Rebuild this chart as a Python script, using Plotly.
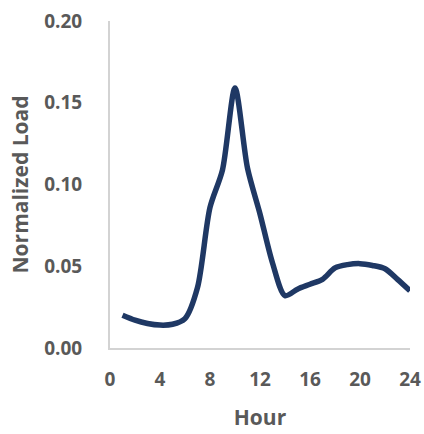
import plotly.graph_objects as go

hours = list(range(1, 25))
load = [0.020, 0.017, 0.015, 0.014, 0.0145, 0.018, 0.037, 0.086, 0.109, 0.159,
        0.110, 0.082, 0.052, 0.032, 0.036, 0.039, 0.042, 0.049, 0.051, 0.0516,
        0.0505, 0.0485, 0.042, 0.035]
x_ticks = [0, 4, 8, 12, 16, 20, 24]
y_ticks = [0.00, 0.05, 0.10, 0.15, 0.20]

NAVY = "#1F3864"
GREY = "#595959"
FONT = "Open Sans"

fig = go.Figure(
    go.Scatter(
        x=hours, y=load, mode="lines",
        line=dict(color=NAVY, width=5.5, shape="spline", smoothing=0.8),
        hoverinfo="skip",
    )
)

fig.update_layout(
    width=424, height=434,
    margin=dict(l=110, r=14, t=21, b=86),
    paper_bgcolor="white", plot_bgcolor="white",
    showlegend=False,
    font=dict(family=FONT, color=GREY),
)

fig.update_xaxes(
    range=[0, 24], tickvals=x_ticks, ticktext=[str(v) for v in x_ticks],
    automargin=False,
    showgrid=False, zeroline=False, showline=True, linecolor="#D3D3D3", linewidth=2,
    ticks="", ticklabelstandoff=13,
    tickfont=dict(family=FONT, size=19, color=GREY, weight="bold"),
    title=dict(text="Hour", font=dict(family=FONT, size=21, color=GREY, weight="bold"), standoff=20),
)
fig.update_yaxes(
    range=[0, 0.2], tickvals=y_ticks, ticktext=[f"{v:.2f}" for v in y_ticks],
    automargin=False,
    showgrid=False, zeroline=False, showline=True, linecolor="#D3D3D3", linewidth=2,
    ticks="", ticklabelstandoff=22,
    tickfont=dict(family=FONT, size=19, color=GREY, weight="bold"),
    title=dict(text="Normalized Load", font=dict(family=FONT, size=21, color=GREY, weight="bold"), standoff=10),
)

fig.write_html("out.html")
